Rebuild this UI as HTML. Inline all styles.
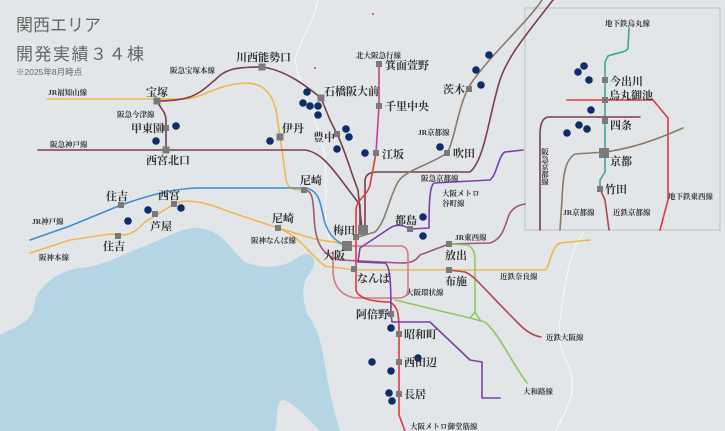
<!DOCTYPE html>
<html><head><meta charset="utf-8"><style>
html,body{margin:0;padding:0;background:#e3e6e8;}
svg{display:block;}
.t{font-family:"Liberation Sans","Noto Sans CJK JP",sans-serif;fill:#666;}
.s{font-family:"Liberation Serif","Noto Serif CJK SC",serif;font-weight:700;fill:#333;font-size:11px;}
.l{font-family:"Liberation Serif","Noto Serif CJK SC",serif;font-weight:700;fill:#333;font-size:7.5px;}
.ln{fill:none;stroke-width:1.6;stroke-linejoin:round;stroke-linecap:round;}
</style></head><body>
<svg width="725" height="431" viewBox="0 0 725 431" xmlns="http://www.w3.org/2000/svg">
<rect width="725" height="431" fill="#e3e6e8"/>
<g fill="none" stroke="#f4f6f7" stroke-width="1.2">
<path d="M318,0 C315,20 300,40 295,60 C300,90 320,120 325,160 C328,190 322,220 330,240"/>
<path d="M585,230 C570,250 565,280 560,320 C555,350 570,360 572,380 C575,400 560,420 556,431"/>
<path d="M700,10 C710,40 695,70 705,100 C715,130 710,160 720,170"/>
</g>
<path fill="#b5d4e4" d="M0,335 C20,325 35,320 35,300 C40,285 60,270 80,268 C105,266 120,255 145,246 C170,236 185,226 200,228 C225,232 230,250 245,262 C265,270 285,268 300,256 C310,250 318,258 312,270 C300,282 302,300 308,315 C318,330 322,345 325,365 C328,385 332,405 340,431 L320,431 C305,415 290,400 282,400 C275,405 278,420 275,431 L0,431 Z"/>
<rect x="525" y="8" width="195" height="222" fill="#e3e6e8" stroke="#c5c8cb" stroke-width="1.2"/>

<path class="ln" stroke="#f0b84a" d="M47,99 L185,99 C205,97 215,85 245,83 C265,83 272,95 276,110 L282,150 L286,180 C288,190 295,190 304,190"/>
<path class="ln" stroke="#f0b84a" d="M30,253 L70,240 L110,234 C125,235 130,238 145,222 L174,204 C185,199 200,200 230,212 L278,228 C295,232 310,240 335,242 L347,246"/>
<path class="ln" stroke="#f0b84a" d="M278,228 C300,236 310,255 325,266 L354,270 L545,270 C550,268 550,248 560,243 L590,240"/>
<path class="ln" stroke="#3a8fd0" d="M30,240 L70,226 L121,205 C150,195 175,188 200,188 L305,188 C318,190 320,200 323,215 C326,232 335,242 347,246"/>
<path class="ln" stroke="#7a3f4c" d="M157,101 C195,101 200,92 215,80 C225,70 232,67 262,67 C285,70 305,85 321,98 L330,120 L337,134 C345,150 350,170 358,190 L362,230"/>
<path class="ln" stroke="#7a3f4c" d="M157,101 C160,108 166,112 166,120 L166,150"/>
<path class="ln" stroke="#7a3f4c" d="M38,150 L305,150 C320,152 330,165 345,185 L360,205 L360,230"/>
<path class="ln" stroke="#7a3f4c" d="M365,230 L365,180 C366,174 370,172 378,172 L470,172 C485,160 490,110 500,80 C508,55 530,30 553,0"/>
<path class="ln" stroke="#8a7a6a" d="M542,0 C525,25 490,55 470,85 C458,105 455,140 447,153 C430,165 405,170 398,182 C388,200 386,222 375,232 L355,238"/>
<path class="ln" stroke="#a0557a" d="M304,190 C312,190 313,198 314,215 C315,240 320,255 340,260 L400,263 C410,263 415,262 420,255 L449,244 L490,243 C505,238 505,222 510,213 C515,206 520,205 525,204"/>
<path class="ln" stroke="#d67a86" d="M347,246 L400,246 Q408,246 408,256 L408,290 Q408,298 398,298 L355,298 C340,295 333,285 333,270 L333,252"/>
<path class="ln" stroke="#c63f8c" d="M379,64 L379,106 L376,153"/>
<path class="ln" stroke="#e0393e" d="M376,153 L370,185 C368,195 356,200 356,210 L356,290 C358,298 372,302 390,302 C397,306 399,312 399,330 L399,415 L405,431"/>
<path class="ln" stroke="#7b3fa8" d="M523,150 L505,152 C498,156 497,175 490,180 L434,183 C430,186 429,200 429,228 L410,229 C405,226 398,223 390,228 L360,248 L358,262 L385,263 C390,266 391,280 391,314 L392,322 L430,322 L470,360 L482,362 L482,398 L500,398"/>
<path class="ln" stroke="#8cc860" d="M449,244 L468,245 C473,248 475,252 475,262 L475,312 L470,318"/>
<path class="ln" stroke="#8cc860" d="M395,300 L470,318 L485,322 C500,335 510,360 527,383"/>
<path class="ln" stroke="#8cc860" d="M475,312 L480,320"/>
<path class="ln" stroke="#b04848" d="M449,270 L465,272 C475,276 480,285 520,325 C528,333 535,336 541,337"/>
<!-- inset lines -->
<path class="ln" stroke="#3aa89a" d="M629,28 L628,48 C627,52 620,52 608,56 L605,62 L605,172 L600,180 L600,189"/>
<path class="ln" stroke="#e0393e" d="M567,100 L653,100 L668,118 L668,200 L660,230"/>
<path class="ln" stroke="#7a3f4c" d="M640,117 L548,117 C542,118 540,125 540,135 L540,230"/>
<path class="ln" stroke="#8a7a6a" d="M683,128 C660,138 635,148 605,152 L575,154 C565,160 563,175 562,200 L560,230"/>
<path class="ln" stroke="#b04848" d="M600,189 L605,200 L609,230"/>

<g fill="#7a7a7a">
<rect x="258.5" y="63.5" width="7" height="7"/><rect x="153.5" y="97.5" width="7" height="7"/>
<rect x="163" y="125" width="6" height="6"/><rect x="162.5" y="146.5" width="7" height="7"/>
<rect x="276.5" y="133.5" width="7" height="7"/><rect x="317.5" y="94.5" width="7" height="7"/>
<rect x="334" y="131" width="6" height="6"/><rect x="376" y="61" width="6" height="6"/>
<rect x="376" y="103" width="6" height="6"/><rect x="373" y="150" width="6" height="6"/>
<rect x="466" y="86" width="6" height="6"/><rect x="444" y="150" width="6" height="6"/>
<rect x="301" y="187" width="6" height="6"/><rect x="118" y="202" width="6" height="6"/>
<rect x="171" y="201" width="6" height="6"/><rect x="152" y="211" width="6" height="6"/>
<rect x="115" y="233" width="6" height="6"/><rect x="275" y="225" width="6" height="6"/>
<rect x="353" y="234" width="6" height="6"/><rect x="358" y="225" width="10" height="10"/>
<rect x="342" y="241" width="10" height="10"/><rect x="351" y="266" width="6" height="6"/>
<rect x="407" y="226" width="6" height="6"/><rect x="446" y="241" width="6" height="6"/>
<rect x="446" y="267" width="6" height="6"/><rect x="388" y="311" width="6" height="6"/>
<rect x="396" y="331" width="6" height="6"/><rect x="396" y="359" width="6" height="6"/>
<rect x="396" y="391" width="6" height="6"/>
<rect x="602" y="77" width="6" height="6"/><rect x="602" y="97" width="6" height="6"/>
<rect x="602" y="118" width="6" height="6"/><rect x="599" y="148" width="10" height="10"/>
<rect x="597" y="186" width="6" height="6"/>
</g>
<g fill="#0d2d6b">
<circle cx="176" cy="126" r="3.8"/><circle cx="156" cy="141" r="3.8"/><circle cx="270" cy="141" r="3.8"/>
<circle cx="307" cy="92" r="3.8"/><circle cx="303" cy="103" r="3.8"/><circle cx="310" cy="106" r="3.8"/><circle cx="318" cy="106" r="3.8"/><circle cx="318" cy="115" r="3.8"/>
<circle cx="346" cy="129" r="3.8"/><circle cx="349" cy="137" r="3.8"/><circle cx="337" cy="149" r="3.8"/><circle cx="365" cy="153" r="3.8"/>
<circle cx="489" cy="55" r="3.8"/><circle cx="476" cy="70" r="3.8"/><circle cx="481" cy="85" r="3.8"/><circle cx="440" cy="147" r="3.8"/>
<circle cx="423" cy="217" r="3.8"/><circle cx="423" cy="236" r="3.8"/>
<circle cx="148" cy="210" r="3.8"/><circle cx="128" cy="221" r="3.8"/><circle cx="181" cy="208" r="3.8"/>
<circle cx="391" cy="328" r="3.8"/><circle cx="372" cy="362" r="3.8"/><circle cx="391" cy="371" r="3.8"/><circle cx="418" cy="358" r="3.8"/><circle cx="389" cy="393" r="3.8"/><circle cx="392" cy="401" r="3.8"/>
<circle cx="578" cy="72" r="3.8"/><circle cx="584" cy="66" r="3.8"/><circle cx="589" cy="80" r="3.8"/><circle cx="591" cy="110" r="3.8"/><circle cx="567" cy="133" r="3.8"/><circle cx="579" cy="125" r="3.8"/><circle cx="587" cy="129" r="3.8"/>
</g>
<circle cx="315" cy="68" r="1" fill="#e0393e"/><circle cx="373" cy="14" r="1" fill="#e0393e"/>

<text class="t" x="16" y="31" font-size="17">関西エリア</text>
<text class="t" x="16" y="60" font-size="17" letter-spacing="1.5">開発実績３４棟</text>
<text class="t" x="16" y="75" font-size="8.5">※2025年8月時点</text>

<g class="s">
<text x="236" y="61">川西能勢口</text>
<text x="146" y="96">宝塚</text>
<text x="131" y="132">甲東園</text>
<text x="146" y="164">西宮北口</text>
<text x="282" y="132">伊丹</text>
<text x="324" y="95">石橋阪大前</text>
<text x="313" y="141">豊中</text>
<text x="385" y="69">箕面萱野</text>
<text x="385" y="110">千里中央</text>
<text x="382" y="158">江坂</text>
<text x="443" y="93">茨木</text>
<text x="453" y="157">吹田</text>
<text x="300" y="184">尼崎</text>
<text x="106" y="200">住吉</text>
<text x="158" y="199">西宮</text>
<text x="150" y="230">芦屋</text>
<text x="103" y="250">住吉</text>
<text x="272" y="222">尼崎</text>
<text x="333" y="234">梅田</text>
<text x="323" y="259">大阪</text>
<text x="357" y="282">なんば</text>
<text x="395" y="224">都島</text>
<text x="445" y="259">放出</text>
<text x="445" y="285">布施</text>
<text x="356" y="318">阿倍野</text>
<text x="404" y="338">昭和町</text>
<text x="404" y="366">西田辺</text>
<text x="404" y="398">長居</text>
<text x="610" y="85">今出川</text>
<text x="609" y="99">烏丸御池</text>
<text x="610" y="129">四条</text>
<text x="610" y="165">京都</text>
<text x="605" y="193">竹田</text>
</g>
<g class="l">
<text x="170" y="73">阪急宝塚本線</text>
<text x="48" y="95">JR福知山線</text>
<text x="117" y="117">阪急今津線</text>
<text x="50" y="147">阪急神戸線</text>
<text x="32" y="224">JR神戸線</text>
<text x="39" y="260">阪神本線</text>
<text x="251" y="243">阪神なんば線</text>
<text x="356" y="58">北大阪急行線</text>
<text x="418" y="135">JR京都線</text>
<text x="421" y="181">阪急京都線</text>
<text x="442" y="196">大阪メトロ</text>
<text x="442" y="206">谷町線</text>
<text x="455" y="240">JR東西線</text>
<text x="500" y="279">近鉄奈良線</text>
<text x="406" y="295">大阪環状線</text>
<text x="546" y="340">近鉄大阪線</text>
<text x="523" y="394">大和路線</text>
<text x="410" y="429">大阪メトロ御堂筋線</text>
<text x="605" y="26">地下鉄烏丸線</text>
<text x="563" y="215">JR京都線</text>
<text x="613" y="215">近鉄京都線</text>
<text x="668" y="199">地下鉄東西線</text>
<text x="545" y="148" writing-mode="tb">阪急京都線</text>
</g>
</svg>
</body></html>
